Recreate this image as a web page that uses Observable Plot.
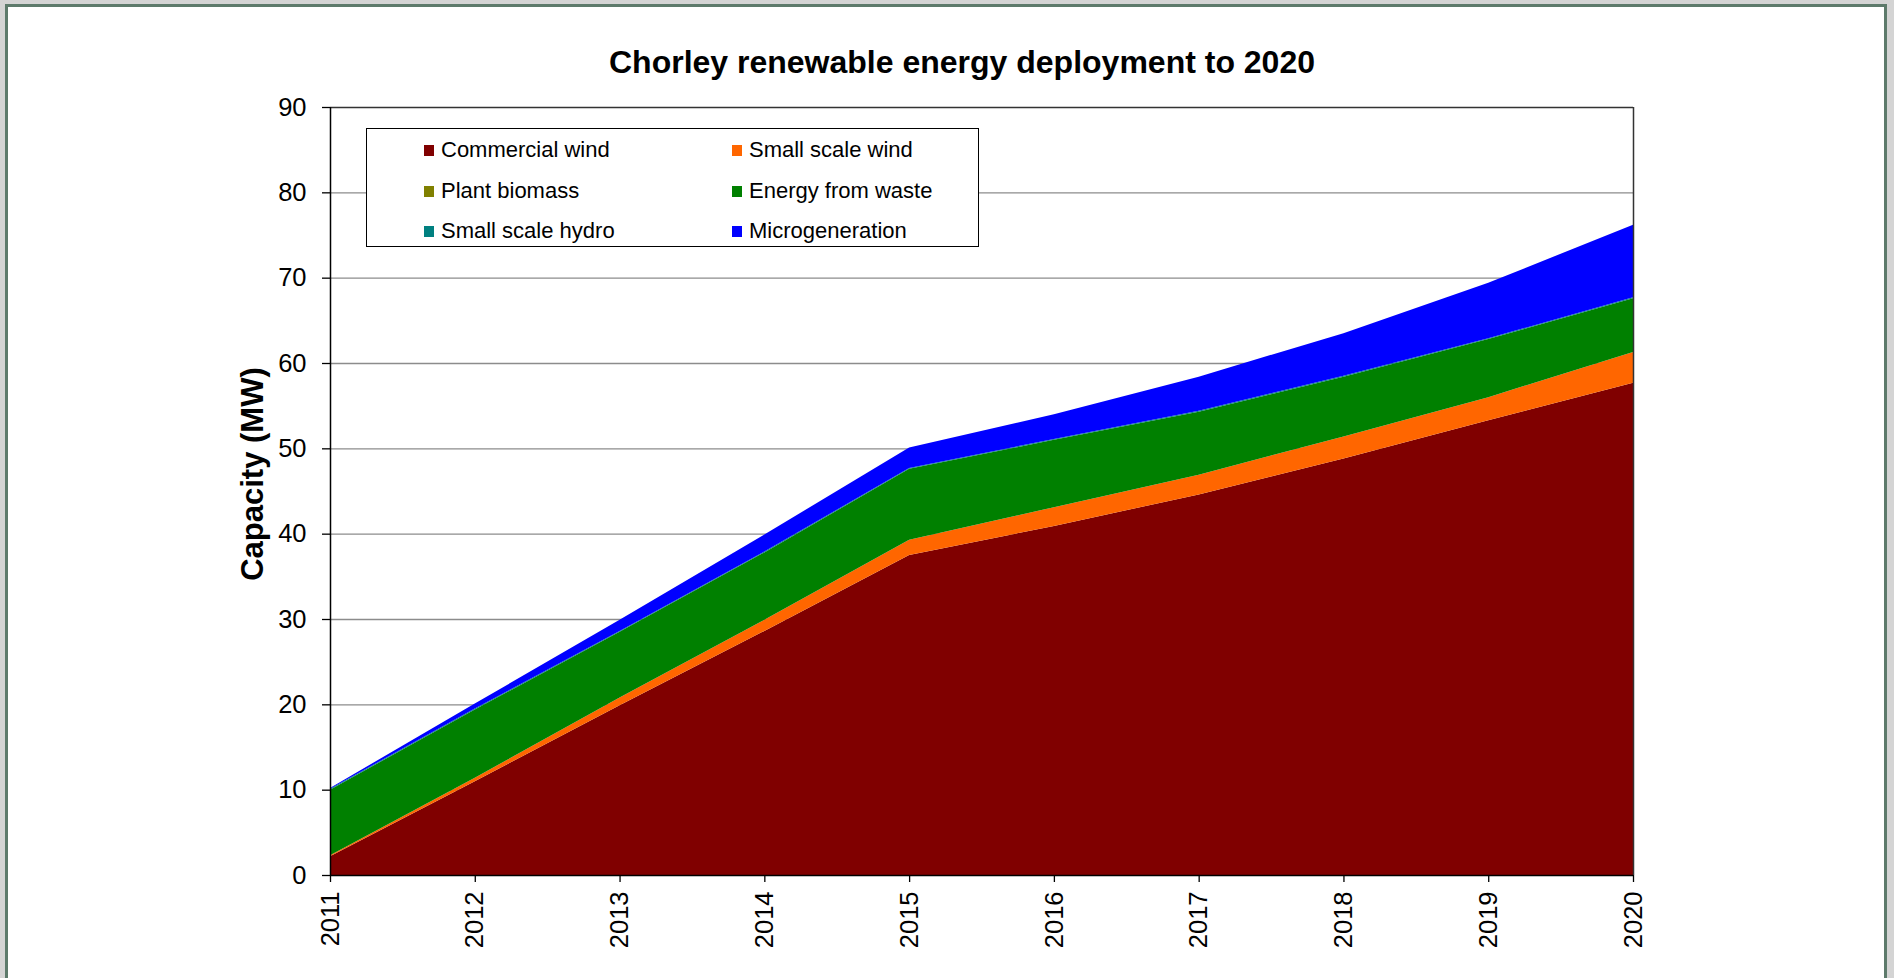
<!DOCTYPE html>
<html>
<head>
<meta charset="utf-8">
<script src="https://cdn.jsdelivr.net/npm/d3@7"></script>
<script src="https://cdn.jsdelivr.net/npm/@observablehq/plot@0.6"></script>
<style>
  html, body { margin: 0; padding: 0; }
  body { width: 1894px; height: 978px; position: relative; overflow: hidden; background: #d4d4d4; font-family: "Liberation Sans", Arial, sans-serif; }
  #frame { position: absolute; left: 5px; top: 4px; width: 1876px; height: 1000px; border: 3px solid #5d7a6b; background: #fff; }
  #title { position: absolute; left: 0; width: 1924px; top: 44px; text-align: center; font-size: 32px; font-weight: bold; color: #000; }
  #ytitle { position: absolute; left: 253px; top: 474px; transform: translate(-50%, -50%) rotate(-90deg); font-size: 31px; font-weight: bold; white-space: nowrap; color: #000; }
  #chart { position: absolute; left: 0; top: 90px; }
  #legend { position: absolute; left: 366px; top: 128px; width: 611px; height: 117px; border: 1.5px solid #000; background: #fff; }
  .item { position: absolute; font-size: 22px; color: #000; white-space: nowrap; line-height: 1; }
  .sw { display: inline-block; width: 10px; height: 11px; margin-right: 7px; vertical-align: 1px; }
</style>
</head>
<body>
<div id="frame"></div>
<div id="chart"></div>
<div id="title">Chorley renewable energy deployment to 2020</div>
<div id="ytitle">Capacity (MW)</div>
<div id="legend"></div>
<script>
// ---- Data (MW per technology) ----
const years = [2011, 2012, 2013, 2014, 2015, 2016, 2017, 2018, 2019, 2020];
const commercialWind  = [2.2, 11.0, 19.9, 28.6, 37.5, 40.9, 44.6, 48.8, 53.3, 57.7];
const smallScaleWind  = [0.1, 0.4, 0.9, 1.3, 1.8, 2.2, 2.3, 2.6, 2.7, 3.6];
const plantBiomass    = [0, 0, 0, 0, 0, 0, 0, 0, 0, 0];
const energyFromWaste = [7.7, 8.0, 7.7, 7.9, 8.3, 7.9, 7.4, 7.0, 6.8, 6.3];
const smallScaleHydro = [0.1, 0.1, 0.1, 0.1, 0.1, 0.1, 0.1, 0.1, 0.1, 0.1];
const microgeneration = [0.1, 0.6, 1.3, 2.0, 2.4, 2.9, 4.0, 5.0, 6.5, 8.5];

const seriesNames = ["Commercial wind", "Small scale wind", "Plant biomass", "Energy from waste", "Small scale hydro", "Microgeneration"];
const seriesValues = [commercialWind, smallScaleWind, plantBiomass, energyFromWaste, smallScaleHydro, microgeneration];
const seriesColors = ["#800000", "#ff6600", "#808000", "#008000", "#008080", "#0000ff"];
const yTicks = [0, 10, 20, 30, 40, 50, 60, 70, 80, 90];
const gridTicks = [10, 20, 30, 40, 50, 60, 70, 80];

const table = [];
seriesNames.forEach((s, i) => years.forEach((y, j) => table.push({year: y, series: s, value: seriesValues[i][j]})));

const plot = Plot.plot({
  width: 1894,
  height: 888,
  marginLeft: 330,
  marginRight: 261,
  marginTop: 17,
  marginBottom: 103,
  style: {fontFamily: "'Liberation Sans', Arial, sans-serif", color: "#000", background: "transparent", overflow: "visible"},
  x: {domain: [2011, 2020], label: null},
  y: {domain: [0, 90], label: null},
  color: {domain: seriesNames, range: seriesColors},
  marks: [
    Plot.gridY(gridTicks, {stroke: "#8c8c8c", strokeOpacity: 1, strokeWidth: 1.3}),
    Plot.areaY(table, {x: "year", y: "value", z: "series", fill: "series", order: seriesNames, curve: "linear"}),
    Plot.ruleY([90], {stroke: "#333", strokeWidth: 1.5}),
    Plot.ruleX([2020], {stroke: "#333", strokeWidth: 1.5}),
    Plot.ruleY([0], {stroke: "#000", strokeWidth: 1.5}),
    Plot.ruleX([2011], {stroke: "#000", strokeWidth: 1.5}),
    Plot.axisY({ticks: yTicks, tickSize: 8, tickPadding: 16, fontSize: 25.5, label: null, strokeWidth: 1.3}),
    Plot.axisX({ticks: years, tickFormat: d => String(d), tickRotate: -90, tickSize: 7, tickPadding: 9, fontSize: 25.5, label: null, strokeWidth: 1.3})
  ]
});
document.getElementById("chart").appendChild(plot);

// Legend (3 rows x 2 columns, Excel order)
const legend = document.getElementById("legend");
const rowTops = [10, 51, 91];
const colLefts = [57, 365];
seriesNames.forEach((s, i) => {
  const row = Math.floor(i / 2), col = i % 2;
  const d = document.createElement("div");
  d.className = "item";
  d.style.left = colLefts[col] + "px";
  d.style.top = rowTops[row] + "px";
  d.innerHTML = `<span class="sw" style="background:${seriesColors[i]}"></span>${s}`;
  legend.appendChild(d);
});
</script>
</body>
</html>
